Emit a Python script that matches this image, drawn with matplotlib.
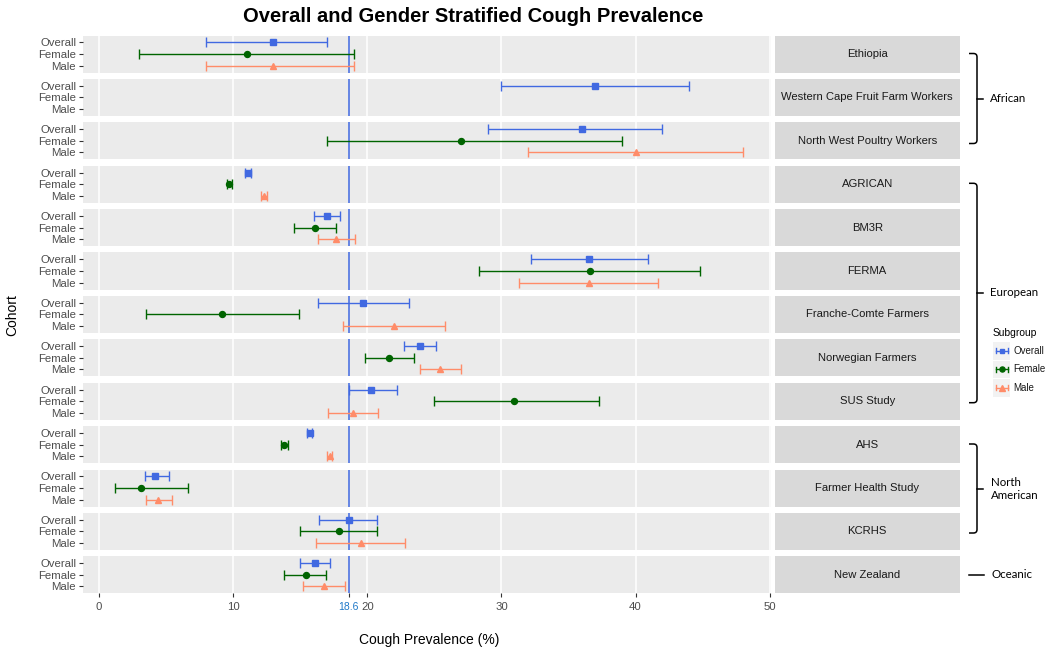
import numpy as np
import matplotlib
matplotlib.use("Agg")
import matplotlib.pyplot as plt
from matplotlib.path import Path
from matplotlib.patches import PathPatch, Rectangle

plt.rcParams['font.family'] = ['Liberation Sans', 'DejaVu Sans']

nan = np.nan
cohorts = ["Ethiopia", "Western Cape Fruit Farm Workers", "North West Poultry Workers",
           "AGRICAN", "BM3R", "FERMA", "Franche-Comte Farmers", "Norwegian Farmers",
           "SUS Study", "AHS", "Farmer Health Study", "KCRHS", "New Zealand"]

overall_est = [13.0, 37.0, 36.0, 11.1, 17.0, 36.5, 19.7, 23.9, 20.3, 15.7, 4.2, 18.6, 16.1]
overall_lo  = [8.0, 30.0, 29.0, 10.9, 16.0, 32.2, 16.3, 22.7, 18.6, 15.5, 3.4, 16.4, 15.0]
overall_hi  = [17.0, 44.0, 42.0, 11.3, 18.0, 40.9, 23.1, 25.1, 22.2, 15.9, 5.2, 20.7, 17.2]

female_est = [11.0, nan, 27.0, 9.7, 16.1, 36.6, 9.2, 21.6, 30.9, 13.8, 3.1, 17.9, 15.4]
female_lo  = [3.0, nan, 17.0, 9.5, 14.5, 28.3, 3.5, 19.8, 25.0, 13.6, 1.2, 15.0, 13.8]
female_hi  = [19.0, nan, 39.0, 9.9, 17.7, 44.8, 14.9, 23.5, 37.3, 14.1, 6.6, 20.7, 16.9]

male_est = [13.0, nan, 40.0, 12.3, 17.7, 36.5, 22.0, 25.4, 18.9, 17.2, 4.4, 19.5, 16.8]
male_lo  = [8.0, nan, 32.0, 12.1, 16.3, 31.3, 18.2, 23.9, 17.1, 17.0, 3.5, 16.2, 15.2]
male_hi  = [19.0, nan, 48.0, 12.5, 19.1, 41.7, 25.8, 27.0, 20.8, 17.4, 5.4, 22.8, 18.3]

subgroups = ["Overall", "Female", "Male"]
ref_value = 18.6
x_ticks = [0, 10, 20, 30, 40, 50]

regions = ["African", "European", "North\nAmerican", "Oceanic"]

colors = {"Overall": "#4169E1", "Female": "#006400", "Male": "#FF8C69"}
markers = {"Overall": ("s", 4.0), "Female": ("o", 4.3), "Male": ("^", 5.0)}
series = {"Overall": (overall_est, overall_lo, overall_hi),
          "Female": (female_est, female_lo, female_hi),
          "Male": (male_est, male_lo, male_hi)}
ypos = {"Overall": 3, "Female": 2, "Male": 1}

W, H = 1050, 650
fig = plt.figure(figsize=(W / 100, H / 100), dpi=100)

panel_left, panel_right = 83, 771
strip_left, strip_right = 774.5, 960
top0, pitch, ph = 35.5, 43.4, 37.0
xlim = (-1.2, 50.1)

for i, name in enumerate(cohorts):
    top = top0 + i * pitch
    ax = fig.add_axes([panel_left / W, 1 - (top + ph) / H, (panel_right - panel_left) / W, ph / H])
    ax.set_facecolor("#EBEBEB")
    for s in ax.spines.values():
        s.set_visible(False)
    for gx in x_ticks:
        ax.axvline(gx, color="white", lw=1.1, zorder=0)
    ax.axvline(ref_value, color="#4169E1", lw=1.1, zorder=1)
    for sg in subgroups:
        est, lo, hi = series[sg]
        e, l, h = est[i], lo[i], hi[i]
        if np.isnan(e):
            continue
        m, ms = markers[sg]
        ax.errorbar([e], [ypos[sg]], xerr=[[e - l], [h - e]], fmt=m, ms=ms,
                    color=colors[sg], ecolor=colors[sg], elinewidth=1.0,
                    capsize=3.6, capthick=1.0, zorder=3)
    ax.set_xlim(*xlim)
    ax.set_ylim(0.4, 3.6)
    ax.set_yticks([ypos[s] for s in subgroups])
    ax.set_yticklabels(subgroups)
    ax.tick_params(axis="y", length=3, width=0.8, color="#333333",
                   labelcolor="#4D4D4D", labelsize=8.2, pad=2)
    if i < len(cohorts) - 1:
        ax.tick_params(axis="x", bottom=False, labelbottom=False)
    else:
        ticks = [0, 10, ref_value, 20, 30, 40, 50]
        ax.set_xticks(ticks)
        ax.set_xticklabels(["0", "10", "18.6", "20", "30", "40", "50"])
        ax.tick_params(axis="x", length=3, width=0.8, color="#333333",
                       labelcolor="#4D4D4D", labelsize=8.2, pad=3)
        lab = ax.get_xticklabels()[2]
        lab.set_color("#1E78C8")
        lab.set_fontsize(7.5)
        ax.xaxis.get_major_ticks()[2].tick1line.set_color("#4169E1")

    sax = fig.add_axes([strip_left / W, 1 - (top + ph) / H, (strip_right - strip_left) / W, ph / H])
    sax.set_facecolor("#D9D9D9")
    sax.set_xticks([]); sax.set_yticks([])
    for s in sax.spines.values():
        s.set_visible(False)
    sax.text(0.5, 0.5, name, ha="center", va="center", fontsize=8.1, color="#1A1A1A",
             transform=sax.transAxes)

# overlay in pixel coordinates
ov = fig.add_axes([0, 0, 1, 1], zorder=10)
ov.set_xlim(0, W); ov.set_ylim(H, 0); ov.axis("off"); ov.patch.set_alpha(0)

fig.text(473.5 / W, 1 - 17 / H, "Overall and Gender Stratified Cough Prevalence",
         ha="center", va="center", fontsize=14.5, fontweight="bold")
fig.text(429 / W, 1 - 640 / H, "Cough Prevalence (%)", ha="center", va="center", fontsize=10)
fig.text(12 / W, 1 - 315 / H, "Cohort", ha="center", va="center", fontsize=10, rotation=90)

def bracket(top, bot, mid, x0=969, xv=977, xp=983, r=3.5):
    verts = [(x0, top), (xv - r, top), (xv, top), (xv, top + r), (xv, bot - r),
             (xv, bot), (xv - r, bot), (x0, bot)]
    codes = [Path.MOVETO, Path.LINETO, Path.CURVE3, Path.CURVE3, Path.LINETO,
             Path.CURVE3, Path.CURVE3, Path.LINETO]
    ov.add_patch(PathPatch(Path(verts, codes), fill=False, lw=1.1, color="black"))
    ov.plot([xv, xp], [mid, mid], color="black", lw=1.1)

bfont = dict(family=["Lato", "DejaVu Sans"], fontsize=8.3, color="black")
bracket(53.5, 143.5, 98.5)
ov.text(990, 98.5, regions[0], ha="left", va="center", **bfont)
bracket(183.3, 402.7, 293)
ov.text(990, 293, regions[1], ha="left", va="center", **bfont)
bracket(444, 533, 489)
ov.text(991, 489, regions[2], ha="left", va="center", linespacing=1.15, **bfont)
ov.plot([969, 984], [575, 575], color="black", lw=1.1)
ov.text(991, 575, regions[3], ha="left", va="center", **bfont)

# legend
ov.text(993, 333, "Subgroup", ha="left", va="center", fontsize=7.4, color="black")
leg_rows = [350.7, 369.3, 387.7]
for sg, yy in zip(subgroups, leg_rows):
    ov.add_patch(Rectangle((993, yy - 8.8), 17, 17.6, facecolor="#F2F2F2", edgecolor="none"))
    c = colors[sg]
    ov.plot([995.5, 1007.5], [yy, yy], color=c, lw=1.0)
    ov.plot([995.5, 995.5], [yy - 2.5, yy + 2.5], color=c, lw=1.0)
    ov.plot([1007.5, 1007.5], [yy - 2.5, yy + 2.5], color=c, lw=1.0)
    m, ms = markers[sg]
    ov.plot([1001.5], [yy], marker=m, ms=ms * 0.85, color=c, ls="none")
    ov.text(1013, yy, sg, ha="left", va="center", fontsize=7.0, color="#1A1A1A")

fig.savefig("out.png", dpi=100)
